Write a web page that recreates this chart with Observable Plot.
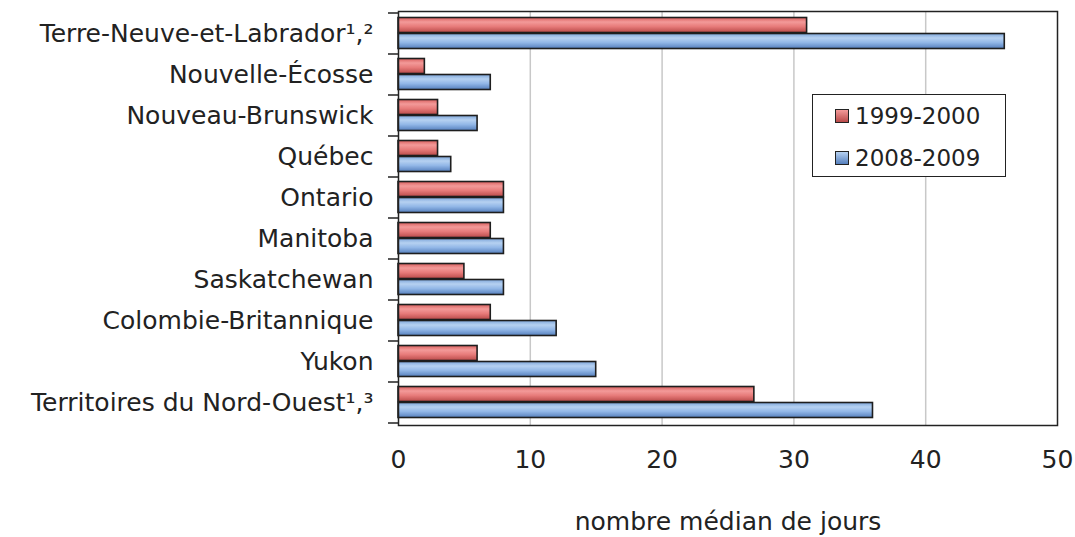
<!DOCTYPE html>
<html>
<head>
<meta charset="utf-8">
<script src="https://cdn.jsdelivr.net/npm/d3@7"></script>
<script src="https://cdn.jsdelivr.net/npm/@observablehq/plot@0.6"></script>
<style>
  html, body { margin: 0; padding: 0; background: #fff; }
  #wrap { position: relative; width: 1075px; height: 537px; font-family: "DejaVu Sans", Verdana, sans-serif; color: #222; }
  #legend { position: absolute; left: 812px; top: 94px; width: 192px; height: 81px; border: 1.5px solid #222; background: #fff; font-size: 23px; }
  .item { position: absolute; left: 22px; display: flex; align-items: center; height: 28px; }
  .sw { width: 12px; height: 12px; border: 1.5px solid #222; margin-right: 6px; }
</style>
</head>
<body>
<div id="wrap"></div>
<script>
const categories = [
  "Terre-Neuve-et-Labrador¹,²",
  "Nouvelle-Écosse",
  "Nouveau-Brunswick",
  "Québec",
  "Ontario",
  "Manitoba",
  "Saskatchewan",
  "Colombie-Britannique",
  "Yukon",
  "Territoires du Nord-Ouest¹,³"
];
const series = ["1999-2000", "2008-2009"];
const values1999 = [31, 2, 3, 3, 8, 7, 5, 7, 6, 27];
const values2008 = [46, 7, 6, 4, 8, 8, 8, 12, 15, 36];
const xTicks = [0, 10, 20, 30, 40, 50];
const xLabel = "nombre médian de jours";

const d1 = categories.map((c, i) => ({cat: c, v: values1999[i]}));
const d2 = categories.map((c, i) => ({cat: c, v: values2008[i]}));

const chart = Plot.plot({
  width: 1075,
  height: 537,
  marginLeft: 398,
  marginRight: 18,
  marginTop: 11,
  marginBottom: 112,
  style: {fontFamily: "DejaVu Sans, Verdana, sans-serif", fontSize: "25px", color: "#222", background: "transparent"},
  x: {domain: [0, 50], ticks: xTicks, tickSize: 0, tickPadding: 25, label: null},
  y: {domain: categories, padding: 0, tickSize: 0, tickPadding: 25, label: null},
  marks: [
    Plot.ruleX(xTicks.filter(t => t > 0 && t < 50), {stroke: "#c8c8c8", strokeWidth: 1.5}),
    Plot.barX(d1, {y: "cat", x: "v", insetTop: 4.5, insetBottom: 21.5, fill: "url(#gRed)", stroke: "#1e1e1e", strokeWidth: 1.6}),
    Plot.barX(d2, {y: "cat", x: "v", insetTop: 20.5, insetBottom: 5.5, fill: "url(#gBlue)", stroke: "#1e1e1e", strokeWidth: 1.6}),
    Plot.frame({stroke: "#222", strokeWidth: 1.5}),
    Plot.text([xLabel], {frameAnchor: "bottom", dy: 104, fontSize: 25, fill: "#222"})
  ]
});

const svg = d3.select(chart);
const defs = svg.insert("defs", ":first-child");
function grad(id, stops) {
  const g = defs.append("linearGradient").attr("id", id).attr("x1", 0).attr("y1", 0).attr("x2", 0).attr("y2", 1);
  stops.forEach(([o, c]) => g.append("stop").attr("offset", o).attr("stop-color", c));
}
grad("gRed", [[0, "#d9605f"], [0.3, "#f39a99"], [0.6, "#e77b7a"], [1, "#b94a49"]]);
grad("gBlue", [[0, "#7ea6da"], [0.3, "#b6d1f1"], [0.6, "#92b7e7"], [1, "#557fbd"]]);

// boundary ticks on the left axis, from the library's y scale
const y = chart.scale("y");
const bw = y.bandwidth;
const bounds = categories.map(c => y.apply(c)).concat([y.apply(categories[categories.length - 1]) + bw]);
svg.append("g").selectAll("line").data(bounds).join("line")
  .attr("x1", 388).attr("x2", 398).attr("y1", d => d).attr("y2", d => d)
  .attr("stroke", "#222").attr("stroke-width", 1.5);

const wrap = document.getElementById("wrap");
wrap.appendChild(chart);
const legend = document.createElement("div");
legend.id = "legend";
legend.innerHTML = `
  <div class="item" style="top:7px"><div class="sw" style="background:linear-gradient(#f39a99,#b94a49)"></div>${series[0]}</div>
  <div class="item" style="top:49px"><div class="sw" style="background:linear-gradient(#b6d1f1,#557fbd)"></div>${series[1]}</div>`;
wrap.appendChild(legend);
</script>
</body>
</html>
